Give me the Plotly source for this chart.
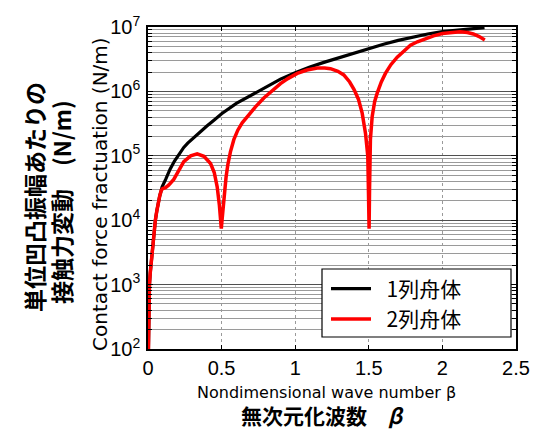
import plotly.graph_objects as go

# --- data ---
beta_1 = [0.003, 0.006, 0.010, 0.015, 0.022, 0.030, 0.040, 0.050, 0.060, 0.070, 0.080, 0.090, 0.096,
          0.120, 0.150, 0.180, 0.210, 0.243, 0.270, 0.300, 0.350, 0.400, 0.450, 0.500, 0.600, 0.700,
          0.800, 0.900, 1.000, 1.100, 1.200, 1.300, 1.400, 1.500, 1.600, 1.700, 1.800, 1.900, 2.000,
          2.100, 2.200, 2.286]
force_1 = [1.0e2, 5.0e2, 1.0e3, 1.5e3, 2.2e3, 3.8e3, 6.5e3, 1.0e4, 1.4e4, 1.9e4, 2.4e4, 2.9e4, 3.3e4,
           4.3e4, 6.2e4, 8.3e4, 1.07e5, 1.35e5, 1.57e5, 1.82e5, 2.3e5, 2.9e5, 3.6e5, 4.5e5, 6.5e5, 8.7e5,
           1.16e6, 1.55e6, 1.95e6, 2.4e6, 2.85e6, 3.35e6, 3.9e6, 4.6e6, 5.4e6, 6.2e6, 7.0e6, 7.8e6, 8.5e6,
           9.0e6, 9.5e6, 9.8e6]

beta_2 = [0.003, 0.006, 0.010, 0.015, 0.022, 0.030, 0.040, 0.050, 0.060, 0.070, 0.080, 0.090, 0.100,
          0.119, 0.140, 0.175, 0.210, 0.243, 0.290, 0.334, 0.380, 0.425, 0.450, 0.470, 0.485, 0.493,
          0.498, 0.503, 0.515, 0.530, 0.542, 0.560, 0.583, 0.610, 0.640, 0.674, 0.730, 0.787, 0.850,
          0.900, 0.950, 1.014, 1.080, 1.150, 1.200, 1.240, 1.290, 1.330, 1.370, 1.400, 1.430, 1.455,
          1.478, 1.493, 1.498, 1.502, 1.505, 1.511, 1.523, 1.540, 1.557, 1.585, 1.613, 1.650, 1.693,
          1.740, 1.783, 1.830, 1.874, 1.940, 2.000, 2.080, 2.120, 2.170, 2.210, 2.250, 2.288]
force_2 = [1.0e2, 5.0e2, 1.0e3, 1.5e3, 2.2e3, 3.8e3, 6.5e3, 1.0e4, 1.4e4, 1.9e4, 2.4e4, 2.9e4, 3.1e4,
           3.2e4, 3.5e4, 4.3e4, 6.0e4, 8.1e4, 1.0e5, 1.07e5, 9.8e4, 7.6e4, 5.5e4, 3.3e4, 1.7e4, 1.0e4,
           7.4e3, 1.0e4, 2.3e4, 4.6e4, 7.2e4, 1.15e5, 1.78e5, 2.5e5, 3.25e5, 4.1e5, 5.75e5, 7.9e5, 1.07e6,
           1.32e6, 1.58e6, 1.9e6, 2.15e6, 2.3e6, 2.3e6, 2.25e6, 2.05e6, 1.8e6, 1.4e6, 1.07e6, 7.5e5, 4.6e5,
           2.2e5, 1.0e5, 2.5e4, 7.4e3, 3.0e4, 1.8e5, 4.1e5, 7.0e5, 9.4e5, 1.4e6, 1.9e6, 2.6e6, 3.4e6,
           4.3e6, 5.2e6, 5.9e6, 6.5e6, 7.3e6, 7.9e6, 8.4e6, 8.4e6, 8.2e6, 7.8e6, 7.1e6, 6.3e6]

series_names = ["1列舟体", "2列舟体"]
x_ticks = [0, 0.5, 1, 1.5, 2, 2.5]
x_tick_text = ["0", "0.5", "1", "1.5", "2", "2.5"]
y_ticks = [1e2, 1e3, 1e4, 1e5, 1e6, 1e7]
y_tick_text = ["10<sup>2</sup>", "10<sup>3</sup>", "10<sup>4</sup>",
               "10<sup>5</sup>", "10<sup>6</sup>", "10<sup>7</sup>"]

# plot-area pixel geometry (used only for placing texts / legend box)
L, R, T, B, W, H = 148, 17, 27, 83, 533, 432
PW, PH = W - L - R, H - T - B
def px(x):
    return (x - L) / PW
def py(y):
    return (H - B - y) / PH

fig = go.Figure()
fig.add_trace(go.Scatter(x=beta_1, y=force_1, mode="lines", name="\u2002" + series_names[0],
                         line=dict(color="black", width=3.2)))
fig.add_trace(go.Scatter(x=beta_2, y=force_2, mode="lines", name="\u2002" + series_names[1],
                         line=dict(color="#ff0000", width=3.5)))

tick_font = dict(family="Liberation Sans, Arial, sans-serif", size=20, color="black")
fig.update_layout(
    width=W, height=H,
    margin=dict(l=L, r=R, t=T, b=B, autoexpand=False),
    paper_bgcolor="white", plot_bgcolor="white",
    showlegend=True,
    legend=dict(x=px(326), y=py(304), xanchor="left", yanchor="middle",
                bgcolor="rgba(0,0,0,0)", borderwidth=0,
                font=dict(family="Noto Sans CJK JP", size=21, color="black"),
                itemwidth=40, tracegroupgap=0),
    xaxis=dict(range=[0, 2.5], tickvals=x_ticks, ticktext=x_tick_text, automargin=False,
               showline=True, linecolor="black", linewidth=1.5, mirror="ticks",
               ticks="inside", ticklen=4, tickcolor="black",
               showgrid=True, gridcolor="#9a9a9a", gridwidth=1, griddash="dot",
               zeroline=False, tickfont=tick_font),
    yaxis=dict(type="log", range=[2, 7], tickvals=y_ticks, ticktext=y_tick_text, automargin=False,
               showline=True, linecolor="black", linewidth=1.5, mirror="ticks",
               ticks="inside", ticklen=5, tickcolor="black",
               showgrid=True, gridcolor="#505050", gridwidth=1.3,
               minor=dict(dtick="D1", ticks="inside", ticklen=4, tickcolor="black",
                          showgrid=True, gridcolor="#9a9a9a", gridwidth=1),
               zeroline=False, tickfont=tick_font, ticklabelstandoff=2),
)

# legend frame
fig.add_shape(type="rect", xref="paper", yref="paper",
              x0=px(322), x1=px(511), y0=py(337), y1=py(269),
              line=dict(color="black", width=1.2), fillcolor="white", layer="above")

ann_font_en = dict(family="DejaVu Sans", size=20, color="black")
ann_font_en_x = dict(family="DejaVu Sans", size=16, color="black")
ann_font_jp = dict(family="Noto Sans CJK JP", size=23, color="black", weight="bold")
fig.add_annotation(text="Contact force fractuation (N/m)", xref="paper", yref="paper",
                   x=px(100), y=py(194), textangle=-90,
                   showarrow=False, font=ann_font_en, xanchor="center", yanchor="middle")
fig.add_annotation(text="単位凹凸振幅あたりの", xref="paper", yref="paper",
                   x=px(34), y=py(197), textangle=-90,
                   showarrow=False, font=ann_font_jp, xanchor="center", yanchor="middle")
fig.add_annotation(text="接触力変動　(N/m)", xref="paper", yref="paper",
                   x=px(61), y=py(202), textangle=-90,
                   showarrow=False, font=ann_font_jp, xanchor="center", yanchor="middle")
fig.add_annotation(text="Nondimensional wave number β", xref="paper", yref="paper",
                   x=px(326), y=py(392),
                   showarrow=False, font=ann_font_en_x, xanchor="center", yanchor="middle")
fig.add_annotation(text="無次元化波数　<i>β</i>", xref="paper", yref="paper",
                   x=px(322), y=py(415),
                   showarrow=False, font=dict(family="Noto Sans CJK JP", size=21, color="black", weight="bold"),
                   xanchor="center", yanchor="middle")

fig.write_html("out.html", config={"displayModeBar": False},
               post_script="document.body.style.margin='0px';")
